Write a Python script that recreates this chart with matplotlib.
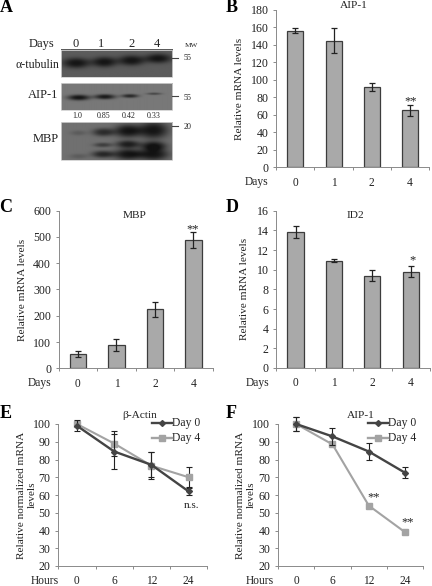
import numpy as np
import matplotlib
matplotlib.use("Agg")
import matplotlib.pyplot as plt

plt.rcParams["font.family"] = ["Liberation Serif", "DejaVu Serif"]

W, H = 432, 586
TXT = "#222222"
AXC = "#8a8a8a"

days = ["0", "1", "2", "4"]
hours = ["0", "6", "12", "24"]

aip_mrna = [156.5, 145, 92, 65]
aip_err = [2.5, 14, 5, 6]
mbp_mrna = [54, 88, 224, 488]
mbp_err = [11, 24, 30, 31]
id2_mrna = [13.8, 10.9, 9.4, 9.8]
id2_err = [0.6, 0.15, 0.6, 0.55]

actin_d0 = [99, 84.5, 77, 62]
actin_d0_err = [3, 10, 7, 2]
actin_d4 = [100, 89, 76.5, 70]
actin_d4_err = [1, 7, 7.5, 5.5]
aip_d0 = [100, 93, 84.5, 72.5]
aip_d0_err = [4, 5, 5, 3]
aip_d4 = [100, 88.5, 54, 39]
aip_d4_err = [4, 1, 1, 1]

# blot bands: centre x, centre y, half width, half height, darkness
tubulin_bands = [(75.5, 63, 13.5, 5, 1.0), (103.5, 62, 12.5, 5, 1.0), (130.5, 60.5, 13, 5, 1.0), (157, 58.5, 13, 4.6, 1.0)]
aip_bands = [(78, 97.3, 11, 2.8, 1.0), (104, 96.5, 10.5, 2.5, 0.95), (129, 95.7, 8.5, 1.9, 0.8), (153, 93.5, 7.5, 1.2, 0.5)]
mbp_bands = [
    (77.5, 132.7, 8, 2.5, 0.22), (78, 156, 9, 2.5, 0.22),
    (102.5, 132, 11, 4, 0.75), (102, 144.7, 9, 2.3, 0.55), (102, 154, 11, 3.5, 0.8),
    (127, 130.7, 13.5, 6.5, 1.0), (127, 144, 12, 3.8, 0.9), (127, 154, 14, 5.5, 1.0),
    (152.5, 130, 14.5, 8.5, 1.0), (152.5, 145.7, 12.5, 4.5, 1.0), (152.5, 154, 15, 6, 1.0),
]
blot_notes = ["1.0", "0.85", "0.42", "0.33"]

fig = plt.figure(figsize=(W / 100, H / 100), dpi=100)


def px_axes(left, right, top, bottom):
    return fig.add_axes([left / W, 1 - bottom / H, (right - left) / W, (bottom - top) / H])


bg = fig.add_axes([0, 0, 1, 1])
bg.axis("off")


def blot(x0, x1, y0, y1, base, bands):
    xs, ys = np.meshgrid(np.arange(x0, x1, 0.5), np.arange(y0, y1, 0.5))
    img = np.full(xs.shape, float(base))
    for cx, cy, hw, hh, dark in bands:
        d = ((xs - cx) / hw) ** 2 + ((ys - cy) / hh) ** 2
        img -= (base - 22) * dark * np.exp(-d ** 1.25)
    img = np.clip(img, 18, 255)
    bg.imshow(img, extent=(x0, x1, y1, y0), cmap="gray", vmin=0, vmax=255, aspect="auto", zorder=1)
    bg.plot([x0, x1, x1, x0, x0], [y0, y0, y1, y1, y0], color="#d0d0d0", lw=0.6, zorder=2)


blot(60.5, 172, 49.5, 77, 92, tubulin_bands)
blot(60.5, 172, 83, 110, 120, aip_bands)
blot(60.5, 172, 122, 160, 112, mbp_bands)
bg.set_xlim(0, W)
bg.set_ylim(H, 0)


def t(x, y, s, size=8.3, ha="center", **kw):
    bg.text(x, y, s, fontsize=size, ha=ha, va="center", color=kw.pop("color", TXT), **kw)


for lab, x, y in [("A", 6, 8), ("B", 232, 8), ("C", 6, 208), ("D", 232, 208), ("E", 6, 413), ("F", 231, 413)]:
    t(x, y, lab, size=13, fontweight="bold", color="black")

t(42, 44, "Days", size=9)
for s, x in zip(days, [76, 101, 132, 157]):
    t(x, 44, s, size=9)
t(191, 45.5, "MW", size=5.2)
t(188, 57.5, "55", size=5.8)
t(188, 98, "55", size=5.8)
t(188, 127, "20", size=5.8)
t(59, 64.5, "α-tubulin", size=8.6, ha="right")
t(58, 95.5, "AIP-1", size=9, ha="right")
t(59, 139.5, "MBP", size=9, ha="right")
for s, x in zip(blot_notes, [77.5, 104, 129, 153.5]):
    t(x, 115.5, s, size=5.8)
for x0, x1, y in [(172, 178, 57.5), (172, 178, 96), (172, 178, 126)]:
    bg.plot([x0, x1], [y, y], color="#444444", lw=0.8, zorder=2)


def style_axes(ax, ymin, ymax, step, xlabels, xname, yname, name_x, label_x):
    ax.patch.set_alpha(0)
    ax.set_xlim(0, 4)
    ax.set_ylim(ymin, ymax)
    ax.set_yticks(np.arange(ymin, ymax + step / 2, step))
    ax.set_xticks(range(5))
    ax.set_xticklabels([])
    ax.spines["top"].set_visible(False)
    ax.spines["right"].set_visible(False)
    for sp in ["left", "bottom"]:
        ax.spines[sp].set_color(AXC)
        ax.spines[sp].set_linewidth(0.7)
    ax.tick_params(axis="both", direction="out", length=2.5, width=0.7, color=AXC)
    ax.tick_params(axis="y", labelsize=8.6, labelcolor=TXT, pad=3)
    pos = ax.get_position()
    left = pos.x0 * W
    wid = pos.width * W
    bottom = (1 - pos.y0) * H
    for i, s in enumerate(xlabels):
        t(left + wid * (i + 0.5) / 4, min(bottom + 15.5, 581), s)
    t(name_x, min(bottom + 15, 581), xname)
    ax.set_ylabel(yname, fontsize=8.1, color=TXT)
    ax.yaxis.set_label_coords((label_x - left) / wid, 0.5)


def bar_panel(box, vals, errs, ymax, step, title, title_xy, name_x, label_x):
    ax = px_axes(*box)
    style_axes(ax, 0, ymax, step, days, "Days", "Relative mRNA levels", name_x, label_x)
    x = np.arange(4) + 0.5
    ax.bar(x, vals, width=0.42, color="#a9a9a9", edgecolor="#3c3c3c", linewidth=0.9)
    ax.errorbar(x, vals, yerr=errs, fmt="none", ecolor="#222222", elinewidth=0.9, capsize=2, capthick=0.9)
    t(title_xy[0], title_xy[1], title, size=8.2)
    return ax


ax_b = bar_panel((276.3, 429, 10, 167.3), aip_mrna, aip_err, 180, 20, "AIP-1", (354, 5), 257, 244)
ax_c = bar_panel((58.7, 212.7, 210.7, 368.3), mbp_mrna, mbp_err, 600, 100, "MBP", (135, 216), 40, 27)
ax_d = bar_panel((276.3, 430, 210.7, 368), id2_mrna, id2_err, 16, 2, "ID2", (355, 216), 258, 249)
t(411, 101, "**", size=9)
t(193, 229, "**", size=9)
t(413, 260, "*", size=9)


def line_panel(box, d0, d0e, d4, d4e, title, title_xy, name_x, leg_x, label_x):
    ax = px_axes(*box)
    style_axes(ax, 20, 100, 10, hours, "Hours", "Relative normalized mRNA\nlevels", name_x, label_x)
    ax.yaxis.label.set_linespacing(1.25)
    x = np.arange(4) + 0.5
    ax.errorbar(x, d4, yerr=d4e, color="#a3a3a3", lw=1.5, marker="s", ms=5, ecolor="#222222",
                elinewidth=0.8, capsize=2, capthick=0.8, clip_on=False, zorder=3)
    ax.errorbar(x, d0, yerr=d0e, color="#444444", lw=1.7, marker="D", ms=3, ecolor="#222222",
                elinewidth=0.8, capsize=2, capthick=0.8, clip_on=False, zorder=4)
    t(title_xy[0], title_xy[1], title, size=8.2)
    for y, s, c, m, ms in [(423, "Day 0", "#444444", "D", 3), (437.7, "Day 4", "#a3a3a3", "s", 5)]:
        bg.plot([leg_x, leg_x + 20], [y, y], color=c, lw=1.7, zorder=5)
        bg.plot([leg_x + 10], [y], color=c, marker=m, ms=ms, zorder=5)
        t(leg_x + 20.5, y, s, size=8.4, ha="left")
    return ax


ax_e = line_panel((58.3, 207.3, 424, 566), actin_d0, actin_d0_err, actin_d4, actin_d4_err,
                  "β-Actin", (140, 415), 45, 152, 37)
ax_f = line_panel((278, 423.3, 424, 566), aip_d0, aip_d0_err, aip_d4, aip_d4_err,
                  "AIP-1", (361, 415), 260, 368, 256)
t(191, 505, "n.s.", size=8)
t(374, 497, "**", size=9)
t(408, 522, "**", size=9)

bg.set_xlim(0, W)
bg.set_ylim(H, 0)

fig.savefig("out.png", dpi=100)
